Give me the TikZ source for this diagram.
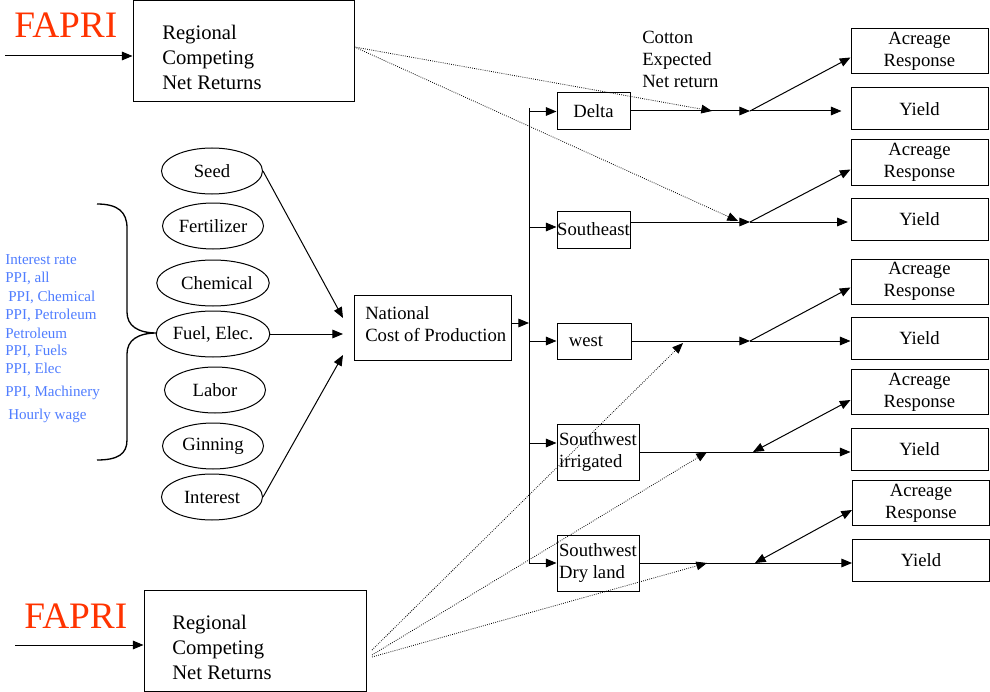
\documentclass[tikz,border=0pt]{standalone}
\usepackage{fontspec}
\setmainfont{Liberation Serif}
\usetikzlibrary{arrows.meta,calc,shapes.geometric}
\definecolor{fapred}{RGB}{255,51,0}
\definecolor{ppiblue}{RGB}{80,125,255}
\begin{document}
\begin{tikzpicture}[x=0.75pt,y=-0.75pt,
  box/.style={draw,line width=0.75pt,inner sep=0pt,font=\fontsize{14}{16.5}\selectfont},
  ell/.style={draw,ellipse,line width=0.75pt,minimum width=75.75pt,minimum height=34.5pt,inner sep=0pt,font=\fontsize{14}{16.5}\selectfont},
  txt/.style={inner sep=0pt,font=\fontsize{14}{16.5}\selectfont,align=left},
  bigtxt/.style={inner sep=0pt,font=\fontsize{15.5}{18.75}\selectfont,align=left},
  fapri/.style={inner sep=0pt,text=fapred,font=\fontsize{28}{30}\selectfont},
  blue/.style={inner sep=0pt,text=ppiblue,font=\fontsize{11.3}{13}\selectfont,anchor=west},
  regbox/.style={box,minimum width=54.75pt,minimum height=27.75pt},
  acbox/.style={box,minimum width=102.75pt,minimum height=33.75pt,align=center},
  yldbox/.style={box,minimum width=102.75pt,minimum height=31.5pt},
  arr/.style={line width=0.75pt,-{Triangle[length=8pt,width=6.5pt]}},
  dblarr/.style={line width=0.75pt,{Triangle[length=8pt,width=6.5pt]}-{Triangle[length=8pt,width=6.5pt]}},
  plain/.style={line width=0.75pt},
  dotarr/.style={line width=0.6pt,densely dotted,-{Triangle[length=8pt,width=6.5pt]}}
]
\useasboundingbox (0,0) rectangle (990,692);

% FAPRI sources
\node[fapri,anchor=base west] (fapri1) at (14,38) {FAPRI};
\node[fapri,anchor=base west] (fapri2) at (24,628) {FAPRI};
\node[box,minimum width=165.75pt,minimum height=75.75pt] (topbox) at (243.5,51.5) {};
\node[bigtxt,anchor=west] (toptext) at (162,57) {Regional\\Competing\\Net Returns};
\node[box,minimum width=166.5pt,minimum height=75.75pt] (botbox) at (255,640.5) {};
\node[bigtxt,anchor=west] (bottext) at (172,647) {Regional\\Competing\\Net Returns};
\coordinate (fa1) at (5,56);
\coordinate (fa2) at (15,645);
\draw[arr] (fa1) -- (fa1 -| topbox.west);
\draw[arr] (fa2) -- (fa2 -| botbox.west);

% cost components
\node[ell] (seed) at (212,171) {Seed};
\node[ell] (fert) at (213,226) {Fertilizer};
\node[ell] (chem) at (213,283) {\hspace*{6pt}Chemical};
\node[ell] (fuel) at (213,334) {Fuel, Elec.};
\node[ell] (labor) at (215,390) {Labor};
\node[ell] (ginning) at (213,446) {Ginning};
\node[ell] (interest) at (212,497) {Interest};

% brace
\draw[line width=1pt] (97,204) .. controls (118,204) and (127,212) .. (127,228) -- (127,312)
  .. controls (127,326) and (138,333) .. (157,333)
  .. controls (138,333) and (127,340) .. (127,354) -- (127,440)
  .. controls (127,454) and (118,460) .. (97,460);

% indices
\node[blue] (i1) at (5,260) {Interest rate};
\node[blue] (i2) at (5,278) {PPI, all};
\node[blue] (i3) at (8,297) {PPI, Chemical};
\node[blue] (i4) at (5,315) {PPI, Petroleum};
\node[blue] (i5) at (5,333) {Petroleum};
\node[blue] (i6) at (5,351) {PPI, Fuels};
\node[blue] (i7) at (5,369) {PPI, Elec};
\node[blue] (i8) at (5,393) {PPI, Machinery};
\node[blue] (i9) at (8,416) {Hourly wage};

% national cost
\node[box,minimum width=117.75pt,minimum height=48.75pt] (nat) at (432.5,327.5) {};
\node[txt,anchor=west] (nattext) at (365,324) {National\\Cost of Production};
\coordinate (s1) at (343,318);
\coordinate (s2) at (343,334);
\coordinate (s3) at (343,355);
\draw[arr] (seed.east) -- (s1);
\draw[arr] (fuel.east) -- (s2);
\draw[arr] (interest.east) -- (s3);

% bus
\coordinate (busn) at (529,323);
\coordinate (bustop) at (529,108);
\coordinate (busbot) at (529,563);
\draw[arr] (nat.east |- busn) -- (busn);
\draw[plain] (bustop) -- (busbot);

% regions
\node[regbox] (delta) at (593.5,111.5) {Delta};
\node[regbox] (se) at (593.5,229.5) {Southeast};
\node[box,minimum width=55.5pt,minimum height=27pt] (west) at (594,341) {west\hspace*{12pt}};
\node[box,minimum width=61.5pt,minimum height=42pt,align=left] (swi) at (598,452) {Southwest\\irrigated};
\node[box,minimum width=61.5pt,minimum height=42pt,align=left] (swd) at (598,563) {Southwest\\Dry land};
\coordinate (bse) at (529,227);
\coordinate (bswi) at (529,443);
\draw[arr] (delta.west -| bustop) -- (delta.west);
\draw[arr] (bse) -- (bse -| se.west);
\draw[arr] (west.west -| bustop) -- (west.west);
\draw[arr] (bswi) -- (bswi -| swi.west);
\draw[arr] (busbot) -- (swd.west);

% label
\node[txt,anchor=west] (cotton) at (642,59) {Cotton\\Expected\\Net return};

% response boxes
\node[acbox] (a1) at (919.5,51.5) {Acreage\\Response};
\node[yldbox] (y1) at (919.5,109) {Yield};
\node[acbox] (a2) at (919.5,162.5) {Acreage\\Response};
\node[yldbox] (y2) at (919.5,219.5) {Yield};
\node[acbox] (a3) at (919.5,281.5) {Acreage\\Response};
\node[yldbox] (y3) at (919.5,338.5) {Yield};
\node[acbox] (a4) at (919.5,392) {Acreage\\Response};
\node[yldbox] (y4) at (919.5,449) {Yield};
\node[acbox] (a5) at (921,503) {Acreage\\Response};
\node[yldbox] (y5) at (921,560) {Yield};

% branch points
\coordinate (b1) at (750,111);
\coordinate (b2) at (750,222);
\coordinate (b3) at (750,341);
\coordinate (b4) at (753,452);
\coordinate (b5) at (755,563);

\draw[arr] (delta.east |- b1) -- (b1);
\draw[arr] (se.east |- b2) -- (b2);
\draw[arr] (west.east |- b3) -- (b3);
\draw[plain] (swi.east |- b4) -- (b4);
\draw[plain] (swd.east |- b5) -- (b5);

\draw[arr] (b1) -- ($(a1.west)+(0,6)$);
\draw[arr] (b2) -- ($(a2.west)+(0,7)$);
\draw[arr] (b3) -- ($(a3.west)+(0,6)$);
\draw[dblarr] (b4) -- ($(a4.west)+(0,8)$);
\draw[dblarr] (b5) -- ($(a5.west)+(0,7)$);

\draw[arr,shorten >=6.75pt] (b1) -- (b1 -| y1.west);
\draw[arr,shorten >=2pt] (b2) -- (b2 -| y2.west);
\draw[arr] (b3) -- (b3 -| y3.west);
\draw[arr] (b4) -- (b4 -| y4.west);
\draw[arr] (b5) -- (b5 -| y5.west);

% dotted expected returns
\coordinate (dt) at ($(topbox.east)+(0,-4.5)$);
\coordinate (d1) at (712,111);
\coordinate (d2) at (738,221);
\draw[dotarr] (dt) -- (d1);
\draw[dotarr] (dt) -- (d2);
\coordinate (db1) at (372,650);
\coordinate (db2) at (372,655);
\coordinate (db3) at (372,657);
\coordinate (d3) at (683,343);
\coordinate (d4) at (707,452);
\coordinate (d5) at (707,563);
\draw[dotarr] (db1) -- (d3);
\draw[dotarr] (db2) -- (d4);
\draw[dotarr] (db3) -- (d5);
\end{tikzpicture}
\end{document}
